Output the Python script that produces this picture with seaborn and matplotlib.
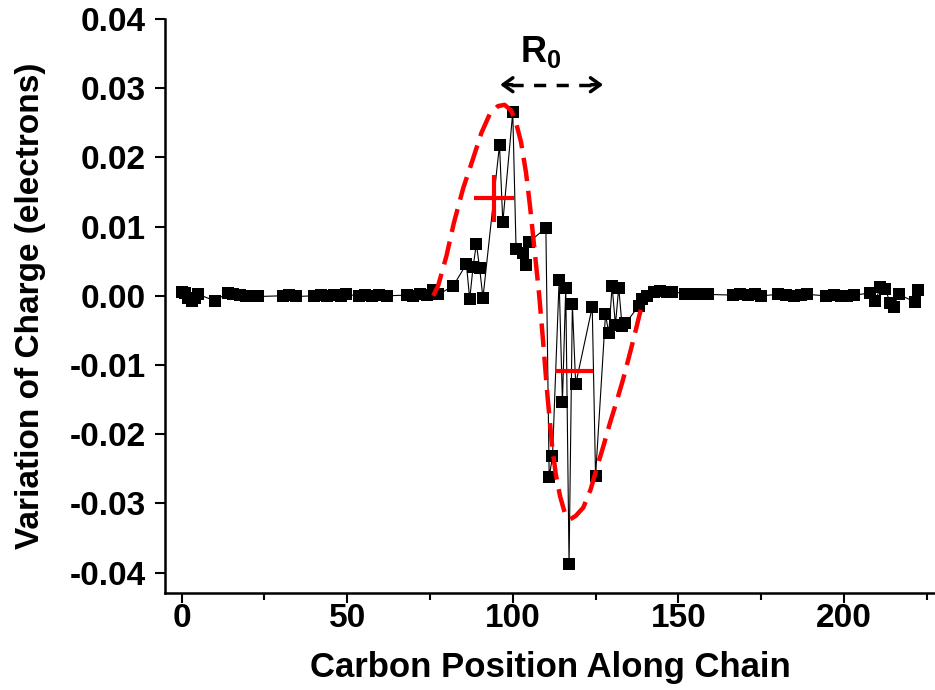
import numpy as np
import pandas as pd
import matplotlib
matplotlib.use('Agg')
import matplotlib.pyplot as plt
from matplotlib.ticker import MultipleLocator
import seaborn as sns

# charge variation on each carbon
carbon_pos = [0, 1, 2, 3, 4, 5, 10, 14, 15.5, 17.5, 19.5, 21.5, 23,
              30.5, 32.5, 34.5, 40, 42, 44, 46, 48, 49.5, 53.5, 55.5, 57.5, 59.5, 62,
              68, 70, 72, 74, 76, 77.5, 82, 86, 87, 88, 89, 90, 91, 96, 97, 100,
              101, 103, 104, 105, 110, 111, 112, 114, 115, 116, 117, 118, 119,
              124, 125, 128, 129, 130, 131, 132, 133, 134, 138, 139, 140.5,
              142.5, 144.5, 146.5, 148, 152, 154, 156.5, 159, 166.5, 168.5, 171,
              173, 175, 180, 182.5, 185, 187, 189, 194.5, 197, 199, 201, 203,
              208, 209.5, 211, 212.5, 214, 215, 216.5, 221.5, 222.5]
charge_var = [0.0006, 0.0004, -0.0003, -0.0008, -0.0003, 0.0002, -0.0007, 0.0004,
              0.0003, 0.0001, 0.0000, 0.0000, -0.0001,
              0.0000, 0.0001, -0.0001, 0.0000, 0.0001, 0.0000, 0.0001, 0.0000, 0.0002,
              0.0000, 0.0001, 0.0000, 0.0001, 0.0000,
              0.0001, 0.0000, 0.0002, 0.0001, 0.0008, 0.0002, 0.0014, 0.0046, -0.0005,
              0.0041, 0.0075, 0.0040, -0.0003, 0.0218, 0.0106, 0.0265,
              0.0067, 0.0062, 0.0045, 0.0078, 0.0098, -0.0262, -0.0232, 0.0023,
              -0.0153, 0.0012, -0.0388, -0.0012, -0.0128,
              -0.0016, -0.0261, -0.0027, -0.0054, 0.0014, -0.0042, 0.0012, -0.0043,
              -0.0040, -0.0015, -0.0005, 0.0000,
              0.0006, 0.0007, 0.0005, 0.0006, 0.0003, 0.0002, 0.0003, 0.0002, 0.0001,
              0.0002, 0.0001, 0.0002, 0.0000, 0.0002, 0.0001, 0.0000, 0.0001, 0.0002,
              0.0000, 0.0001, -0.0001, 0.0000, 0.0001,
              0.0004, -0.0008, 0.0013, 0.0010, -0.0011, -0.0016, 0.0002, -0.0009, 0.0009]

# red dashed guide curve
fit_pos = [76.0, 77.5, 80.0, 82.2, 85.0, 88.0, 90.5, 93.0, 95.5, 97.5, 99.5,
           101.0, 102.5, 104.0, 105.2, 106.5, 108.0, 109.2, 110.4, 111.9, 113.0,
           114.3, 115.8, 117.3, 119.0, 121.3, 123.5, 125.5, 127.5, 129.4, 131.4,
           133.3, 135.0, 136.4, 138.5, 139.5]
fit_val = [0.0000, 0.0015, 0.0058, 0.0105, 0.0155, 0.0198, 0.0235, 0.0262,
           0.0274, 0.0276, 0.0268, 0.0250, 0.0222, 0.0178, 0.0130, 0.0070,
           0.0000, -0.0068, -0.0140, -0.0218, -0.0258, -0.0290, -0.0315,
           -0.0323, -0.0318, -0.0306, -0.0280, -0.0247, -0.0215, -0.0183,
           -0.0152, -0.0121, -0.0090, -0.0064, -0.0023, -0.0008]

# red centre markers with their spread
center_pos = [94.3, 118.5]
center_val = [0.0141, -0.0108]
center_xerr = [6.0, 5.8]
center_yerr = [0.0034, 0.0]

x_ticks = [0, 50, 100, 150, 200]
y_ticks = [-0.04, -0.03, -0.02, -0.01, 0.0, 0.01, 0.02, 0.03, 0.04]
y_labels = ['-0.04', '-0.03', '-0.02', '-0.01', '0.00', '0.01', '0.02', '0.03', '0.04']

sns.set_style('ticks')
plt.rcParams['font.family'] = ['Liberation Sans', 'DejaVu Sans']
plt.rcParams['font.weight'] = 'bold'
plt.rcParams['mathtext.fontset'] = 'custom'
plt.rcParams['mathtext.bf'] = 'Liberation Sans:bold'
plt.rcParams['mathtext.rm'] = 'Liberation Sans:bold'
for k in ['text.color', 'axes.labelcolor', 'xtick.color', 'ytick.color', 'axes.edgecolor']:
    plt.rcParams[k] = 'black'

fig = plt.figure(figsize=(9.35, 6.9), dpi=100)
ax = fig.add_axes([0.1765, 0.14, 0.8235, 0.8325])

df = pd.DataFrame({'pos': carbon_pos, 'charge': charge_var})
sns.lineplot(data=df, x='pos', y='charge', ax=ax, color='black', lw=0.8,
             marker='s', markersize=8, markeredgewidth=0, sort=False, estimator=None)

fit = pd.DataFrame({'pos': fit_pos, 'val': fit_val})
sns.lineplot(data=fit, x='pos', y='val', ax=ax, color='red', lw=3.2,
             linestyle=(0, (5.3, 2.2)), sort=False, estimator=None, zorder=3)

ax.errorbar(center_pos, center_val, xerr=center_xerr, yerr=center_yerr,
            fmt='none', ecolor='red', elinewidth=3, capsize=0, zorder=4)

# R0 label with dashed double arrow
ax.text(108.5, 0.0353, r'$\mathbf{R_0}$', fontsize=26, ha='center', va='center')
ax.plot([99.5, 124.0], [0.0305, 0.0305], color='black', lw=2.5, linestyle=(0, (3.5, 3)))
ax.annotate('', xy=(96.2, 0.0305), xytext=(99.8, 0.0305),
            arrowprops=dict(arrowstyle='->,head_length=0.7,head_width=0.5', lw=2.5,
                            color='black', shrinkA=0, shrinkB=0))
ax.annotate('', xy=(127.3, 0.0305), xytext=(123.7, 0.0305),
            arrowprops=dict(arrowstyle='->,head_length=0.7,head_width=0.5', lw=2.5,
                            color='black', shrinkA=0, shrinkB=0))

ax.set_xlim(-5, 227.5)
ax.set_ylim(-0.043, 0.04)
ax.set_xticks(x_ticks)
ax.xaxis.set_minor_locator(MultipleLocator(25))
ax.set_yticks(y_ticks)
ax.set_yticklabels(y_labels)
ax.tick_params(which='major', direction='out', length=7, width=1.5, labelsize=24)
ax.tick_params(axis='x', which='major', pad=0)
ax.tick_params(axis='y', which='major', pad=7)
ax.tick_params(which='minor', direction='out', length=5, width=1.5)
for lab in ax.get_xticklabels() + ax.get_yticklabels():
    lab.set_fontweight('bold')

sns.despine(ax=ax)
for s in ['left', 'bottom']:
    ax.spines[s].set_linewidth(1.8)

ax.set_xlabel('Carbon Position Along Chain', fontsize=25, fontweight='bold', labelpad=12)
ax.set_ylabel('Variation of Charge (electrons)', fontsize=24, fontweight='bold')
ax.yaxis.set_label_coords(-0.155, 0.5)

fig.savefig('out.png', dpi=100)
